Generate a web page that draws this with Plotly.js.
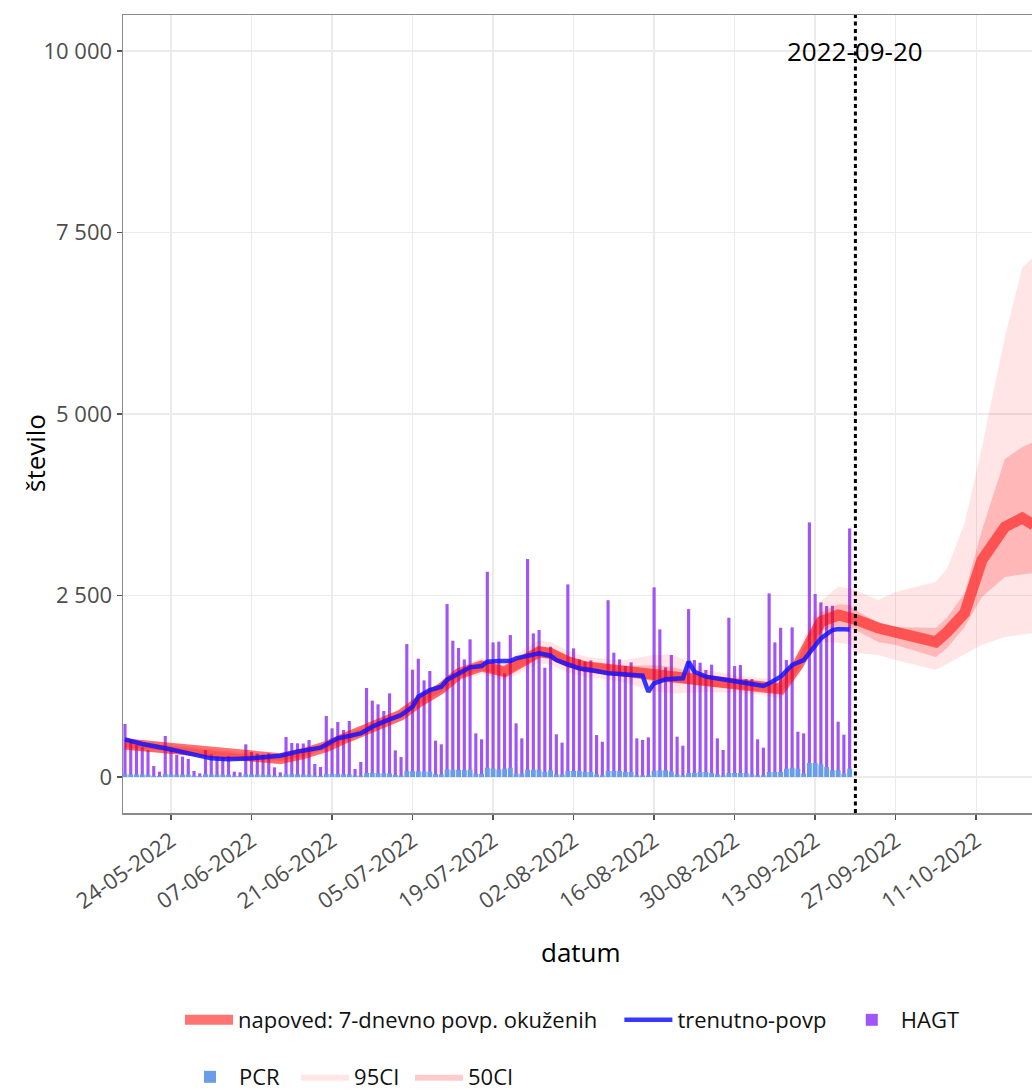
<!DOCTYPE html>
<html><head><meta charset="utf-8">
<script src="https://cdn.plot.ly/plotly-3.0.1.min.js"></script>
<style>html,body{margin:0;padding:0;background:#fff;overflow:hidden}#chart{width:1032px;height:1110px}</style>
</head><body><div id="chart"></div>
<script>
// ---- data ----
const barStart = '2022-05-16';
const hagt = [730,510,441,409,372,151,73,
565,372,303,280,248,83,50,
372,312,280,271,289,73,64,
450,344,321,308,326,133,64,
551,468,464,461,509,179,138,
840,670,757,647,771,110,207,
1226,1051,1001,909,1152,367,275,
1831,1478,1629,1331,1460,500,450,
2382,1877,1776,1620,1896,601,519,
2827,1854,1864,1427,1955,739,532,
3002,1978,2024,1505,1795,588,473,
2653,1772,1620,1590,1605,578,485,
2435,1712,1620,1528,1579,532,510,
546,2612,2033,1510,1680,555,431,
2313,1611,1574,1473,1547,532,372,
2194,1528,1542,1349,1349,519,404,
2529,1854,2056,1611,2061,624,601,
3507,2520,2405,2355,2359,762,583,
3424];
const pcr = [40,36,35,34,33,18,14,
40,36,35,34,33,18,14,
38,35,34,33,32,18,14,
38,35,34,33,32,18,14,
40,38,37,36,35,20,16,
42,40,40,38,37,22,18,
55,55,52,50,50,28,22,
80,80,78,75,72,40,35,
105,100,100,95,100,45,42,
128,115,100,115,128,46,46,
100,100,100,69,92,37,37,
83,83,83,69,69,37,23,
83,83,83,69,69,23,23,
23,83,92,92,75,37,23,
55,55,69,69,55,37,23,
55,55,55,55,37,23,23,
69,69,69,115,128,115,46,
193,193,174,138,92,92,46,
115];

const blueDates = ['2022-05-16','2022-05-19','2022-05-23','2022-05-27','2022-05-31','2022-06-03','2022-06-07','2022-06-12','2022-06-15','2022-06-19','2022-06-22','2022-06-26','2022-06-28','2022-06-30','2022-07-03','2022-07-05','2022-07-06','2022-07-08','2022-07-10','2022-07-11','2022-07-13','2022-07-15','2022-07-17','2022-07-18','2022-07-20','2022-07-22','2022-07-23','2022-07-25','2022-07-27','2022-07-29','2022-07-30','2022-08-01','2022-08-03','2022-08-05','2022-08-06','2022-08-08','2022-08-10','2022-08-12','2022-08-14','2022-08-15','2022-08-16','2022-08-18','2022-08-20','2022-08-21','2022-08-22','2022-08-23','2022-08-25','2022-08-28','2022-08-30','2022-09-02','2022-09-04','2022-09-05','2022-09-07','2022-09-09','2022-09-11','2022-09-13','2022-09-14','2022-09-16','2022-09-17','2022-09-19'];
const blueVals = [519,454,395,326,257,243,257,294,349,404,532,601,693,762,854,968,1106,1198,1244,1340,1427,1510,1529,1588,1597,1597,1634,1666,1703,1671,1611,1551,1496,1473,1460,1428,1418,1405,1395,1175,1290,1345,1350,1359,1588,1450,1382,1349,1313,1281,1253,1290,1382,1542,1611,1795,1909,2024,2038,2033];

const redDates = ['2022-05-16','2022-05-27','2022-06-06','2022-06-12','2022-06-16','2022-06-20','2022-06-24','2022-06-28','2022-07-03','2022-07-06','2022-07-10','2022-07-13','2022-07-17','2022-07-21','2022-07-23','2022-07-27','2022-07-29','2022-08-01','2022-08-04','2022-08-10','2022-08-16','2022-08-19','2022-08-25','2022-08-30','2022-09-04','2022-09-07','2022-09-10','2022-09-12','2022-09-14','2022-09-17','2022-09-19','2022-09-20','2022-09-24','2022-09-27','2022-10-04','2022-10-06','2022-10-09','2022-10-12','2022-10-16','2022-10-19','2022-10-21'];
const redVals = [455,363,275,252,321,420,560,690,854,1030,1221,1420,1529,1450,1542,1726,1703,1588,1519,1460,1428,1405,1322,1276,1244,1212,1542,1864,2139,2231,2208,2170,2052,1983,1860,2000,2259,2989,3444,3568,3471];
const lo95 = [370,300,215,200,265,360,495,620,780,950,1130,1320,1420,1330,1400,1570,1545,1440,1380,1320,1180,1150,1170,1160,1130,1080,1380,1650,1860,1850,1830,1708,1680,1611,1474,1560,1690,1820,1928,1965,1983];
const hi95 = [540,425,335,305,380,480,625,760,930,1110,1310,1520,1640,1570,1690,1880,1860,1740,1660,1600,1680,1690,1480,1400,1360,1350,1710,2080,2420,2620,2600,2576,2438,2548,2690,2880,3499,4550,6060,7010,7170];
const lo50 = [410,330,245,225,290,390,525,655,815,990,1175,1370,1475,1390,1470,1650,1625,1515,1450,1390,1320,1290,1250,1215,1185,1145,1460,1760,2010,2080,2060,2025,1860,1818,1653,1780,2066,2480,2755,2790,2810];
const hi50 = [500,395,305,280,350,450,595,725,895,1070,1265,1470,1585,1510,1615,1800,1780,1660,1590,1530,1540,1520,1395,1340,1305,1280,1625,1970,2270,2380,2370,2300,2121,2066,2052,2200,2534,3400,4380,4545,4614];

const cutDate = '2022-09-20';
const yTickVals = [0,2500,5000,7500,10000];
const yTickText = ['0','2 500','5 000','7 500','10 000'];

// ---- build ----
const DAY = 86400000;
const NB = '\u00a0';
const barDates = (function(){
  const out = []; const d0 = new Date(barStart + 'T00:00:00Z').getTime();
  for (let i = 0; i < hagt.length; i++) out.push(new Date(d0 + i*DAY).toISOString().slice(0,10));
  return out;
})();
function band(dates, lo, hi){
  return {x: dates.concat(dates.slice().reverse()), y: hi.concat(lo.slice().reverse())};
}
const b95 = band(redDates, lo95, hi95);
const b50 = band(redDates, lo50, hi50);

const traces = [
  {type:'bar', x:barDates, y:hagt, width:0.55*DAY, name:'HAGT', marker:{color:'#A155F6', line:{width:0}}, legend:'legend', legendrank:3, hoverinfo:'x+y'},
  {type:'bar', x:barDates, y:pcr, width:0.85*DAY, name:'PCR' + NB + NB, marker:{color:'#6A9DE8', line:{width:0}}, legend:'legend2', legendrank:4, hoverinfo:'x+y'},
  {type:'scatter', mode:'lines', x:b95.x, y:b95.y, fill:'toself', fillcolor:'rgba(255,0,0,0.1)', line:{width:0, color:'rgba(255,0,0,0.1)'}, name:'95CI' + NB, legend:'legend2', legendrank:5, hoverinfo:'skip'},
  {type:'scatter', mode:'lines', x:b50.x, y:b50.y, fill:'toself', fillcolor:'rgba(255,0,0,0.2)', line:{width:0, color:'rgba(255,0,0,0.2)'}, name:'50CI', legend:'legend2', legendrank:6, hoverinfo:'skip'},
  {type:'scatter', mode:'lines', x:redDates, y:redVals, name:'napoved: 7-dnevno povp. okuženih' + NB + NB + NB, line:{color:'rgba(255,0,0,0.55)', width:11}, legend:'legend', legendrank:1},
  {type:'scatter', mode:'lines', x:blueDates, y:blueVals, name:'trenutno-povp' + NB + NB, line:{color:'rgba(20,20,255,0.85)', width:4.5}, legend:'legend', legendrank:2}
];

const legendCommon = {orientation:'h', xanchor:'left', yanchor:'middle', itemwidth:48, bgcolor:'rgba(0,0,0,0)', font:{family:'Open Sans', size:22, color:'#111'}, traceorder:'normal'};

const layout = {
  width:1032, height:1110,
  margin:{l:123, r:0, t:15, b:297, pad:0},
  paper_bgcolor:'#ffffff', plot_bgcolor:'#ffffff',
  font:{family:'Open Sans', size:22, color:'#4D4D4D'},
  barmode:'overlay',
  showlegend:true,
  xaxis:{type:'date', range:['2022-05-15 15:40','2022-10-20 17:00'], tick0:'2022-05-24', dtick:14*DAY, tickformat:'%d-%m-%Y', tickangle:-35,
    ticks:'outside', ticklen:5, tickwidth:1.5, tickcolor:'#555', showgrid:true, gridcolor:'#EBEBEB', gridwidth:1.3,
    showline:true, linecolor:'#8A8A8A', linewidth:1.5, mirror:true, zeroline:false, tickfont:{family:'Open Sans', size:22, color:'#4D4D4D'}},
  yaxis:{range:[-496,10496], tickmode:'array', tickvals:yTickVals, ticktext:yTickText, ticks:'outside', ticklen:5, tickwidth:1.5, tickcolor:'#555',
    showgrid:true, gridcolor:'#EBEBEB', gridwidth:1.3, showline:true, linecolor:'#8A8A8A', linewidth:1.5, mirror:false, zeroline:false,
    tickfont:{family:'Open Sans', size:22, color:'#4D4D4D'}},
  legend:Object.assign({}, legendCommon, {x:(180-123)/909, y:(813-1020)/798}),
  legend2:Object.assign({}, legendCommon, {x:(181-123)/909, y:(813-1077)/798}),
  shapes:[{type:'line', xref:'x', yref:'paper', x0:cutDate, x1:cutDate, y0:0, y1:1, line:{color:'#000', width:3, dash:'4px,3.5px'}, layer:'above'}],
  annotations:[
    {xref:'x', yref:'y', x:cutDate, y:10000, text:'2022-09-20', showarrow:false, xanchor:'center', yanchor:'middle', font:{family:'Open Sans', size:26, color:'#000'}},
    {xref:'paper', yref:'paper', x:(35-123)/909, y:(813-453)/798, text:'število', textangle:-90, showarrow:false, xanchor:'center', yanchor:'middle', font:{family:'Open Sans', size:26, color:'#000'}},
    {xref:'paper', yref:'paper', x:(581-123)/909, y:(813-952)/798, text:'datum', showarrow:false, xanchor:'center', yanchor:'middle', font:{family:'Open Sans', size:26, color:'#000'}}
  ]
};

Plotly.newPlot('chart', traces, layout, {displayModeBar:false, staticPlot:true});
</script>
</body></html>
